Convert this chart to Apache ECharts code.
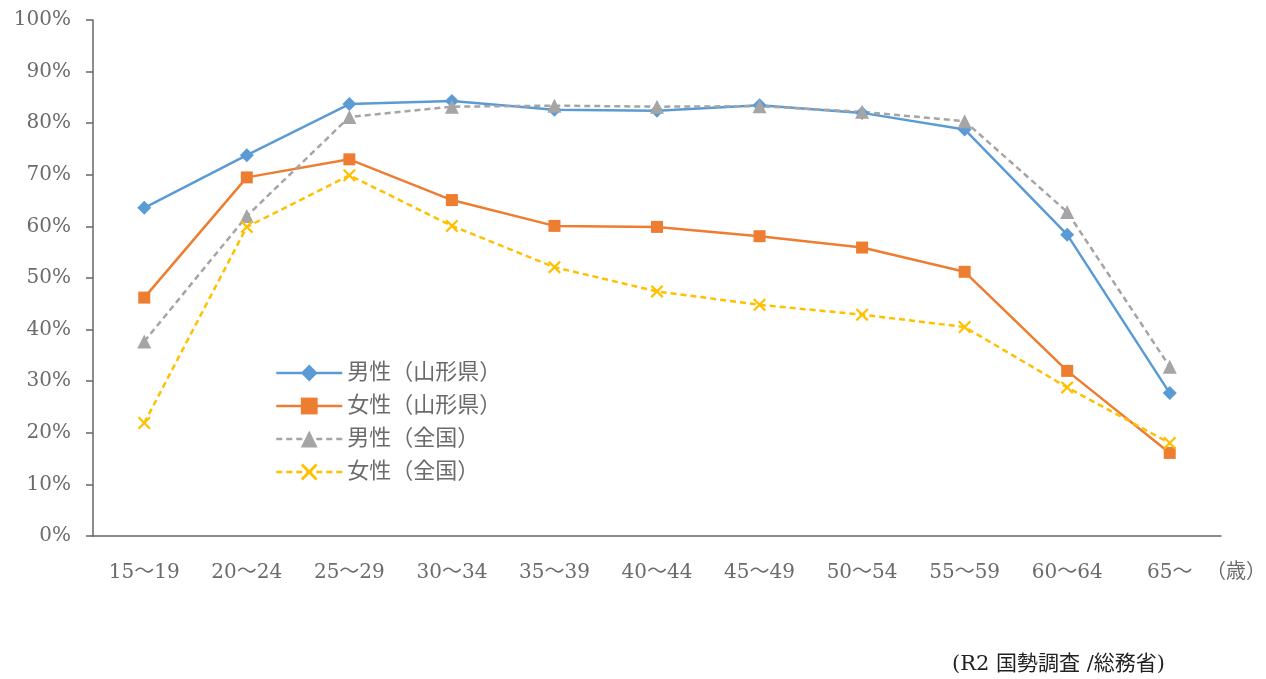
<!DOCTYPE html>
<html>
<head>
<meta charset="utf-8">
<script src="https://cdn.jsdelivr.net/npm/echarts@6/dist/echarts.min.js"></script>
<style>
  html, body { margin: 0; padding: 0; background: #fff; }
  #chart { width: 1266px; height: 679px; }
</style>
</head>
<body>
<div id="chart"></div>
<script>
// 年齢階級
var ageGroups = ['15～19', '20～24', '25～29', '30～34', '35～39', '40～44', '45～49', '50～54', '55～59', '60～64', '65～'];
// 労働力率 (%)
var maleYamagata   = [63.6, 73.8, 83.7, 84.3, 82.6, 82.4, 83.5, 82.0, 78.8, 58.4, 27.7];
var femaleYamagata = [46.2, 69.5, 73.0, 65.1, 60.1, 59.9, 58.1, 55.9, 51.2, 32.0, 16.1];
var maleJapan      = [37.7, 62.0, 81.2, 83.2, 83.4, 83.2, 83.3, 82.2, 80.4, 62.8, 32.8];
var femaleJapan    = [21.9, 59.9, 69.9, 60.1, 52.1, 47.4, 44.8, 42.9, 40.5, 28.8, 18.0];
var yTicks = [0, 10, 20, 30, 40, 50, 60, 70, 80, 90, 100];

var FONT = "'DejaVu Serif', 'Noto Sans CJK JP', serif";
var TXT = '#6b6b6b';
var xMark = 'path://M0,1.2L1.2,0L5,3.8L8.8,0L10,1.2L6.2,5L10,8.8L8.8,10L5,6.2L1.2,10L0,8.8L3.8,5Z';

var chart = echarts.init(document.getElementById('chart'));
var option = {
  animation: false,
  backgroundColor: '#fff',
  grid: { left: 93, right: 45, top: 20, bottom: 143 },
  legend: {
    orient: 'vertical',
    left: 270,
    top: 357,
    itemWidth: 66,
    itemHeight: 21,
    itemGap: 11,
    lineStyle: { width: 2.5 },
    textStyle: { fontFamily: FONT, fontSize: 22, color: TXT },
    data: ['男性（山形県）', '女性（山形県）', '男性（全国）', '女性（全国）']
  },
  xAxis: {
    type: 'category',
    data: ageGroups,
    boundaryGap: true,
    axisLine: { lineStyle: { color: '#666', width: 1.5 } },
    axisTick: { length: 8, lineStyle: { color: '#666', width: 1.5 } },
    axisLabel: { margin: 27, fontFamily: FONT, fontSize: 20, color: TXT },
    splitLine: { show: false }
  },
  yAxis: {
    type: 'value',
    min: yTicks[0],
    max: yTicks[yTicks.length - 1],
    interval: 10,
    axisLine: { show: true, lineStyle: { color: '#666', width: 1.5 } },
    axisTick: { show: true, inside: false, length: 7, lineStyle: { color: '#666', width: 1.5 } },
    axisLabel: { margin: 22, fontFamily: FONT, fontSize: 20, color: TXT, formatter: '{value}%' },
    splitLine: { show: false }
  },
  series: [
    {
      name: '男性（山形県）', type: 'line', data: maleYamagata,
      symbol: 'diamond', symbolSize: 14,
      itemStyle: { color: '#5B9BD5' },
      lineStyle: { color: '#5B9BD5', width: 2.5 }
    },
    {
      name: '女性（山形県）', type: 'line', data: femaleYamagata,
      symbol: 'rect', symbolSize: 12,
      itemStyle: { color: '#ED7D31' },
      lineStyle: { color: '#ED7D31', width: 2.5 }
    },
    {
      name: '男性（全国）', type: 'line', data: maleJapan,
      symbol: 'triangle', symbolSize: 14,
      itemStyle: { color: '#A5A5A5' },
      lineStyle: { color: '#A5A5A5', width: 2.5, type: [6, 4] }
    },
    {
      name: '女性（全国）', type: 'line', data: femaleJapan,
      symbol: xMark, symbolSize: 13,
      itemStyle: { color: '#FFC000' },
      lineStyle: { color: '#FFC000', width: 2.5, type: [6, 4] }
    }
  ],
  graphic: [
    {
      type: 'text', left: 1206, top: 563,
      style: { text: '（歳）', fontFamily: FONT, fontSize: 20, fill: TXT }
    },
    {
      type: 'text', left: 952, top: 654,
      style: { text: '(R2 国勢調査 /総務省)', fontFamily: FONT, fontSize: 21, fill: '#222' }
    }
  ]
};
chart.setOption(option);
</script>
</body>
</html>
